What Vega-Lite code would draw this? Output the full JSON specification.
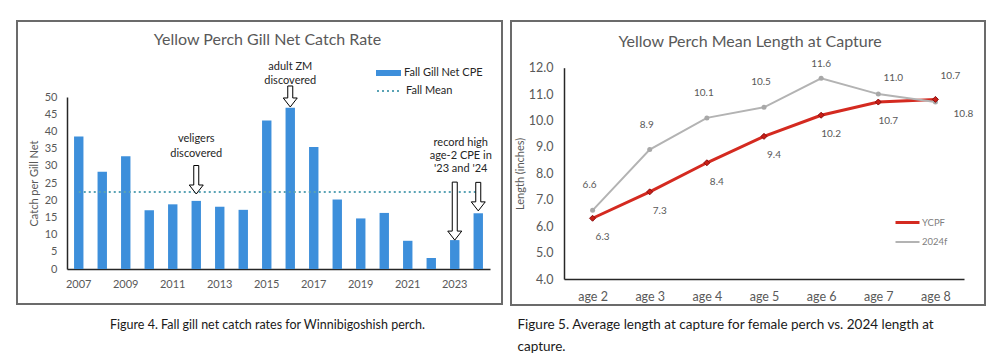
{
  "$schema": "https://vega.github.io/schema/vega-lite/v6.json",
  "padding": {"left": 16, "top": 20, "right": 0, "bottom": 0},
  "background": "white",
  "spacing": 7,
  "config": {
    "font": "Lato",
    "view": {"stroke": "#6b6b6b", "strokeWidth": 2},
    "axis": {"grid": false, "ticks": false, "labelOverlap": false, "domainColor": "#262626", "domainWidth": 1.5, "labelColor": "#595959", "titleColor": "#595959", "titleFontWeight": "normal", "labelFont": "Lato", "titleFont": "Lato", "titleLimit": 1000},
    "title": {"font": "Lato", "fontWeight": "normal", "color": "#595959"},
    "legend": {"labelFont": "Lato", "padding": 0, "title": null}
  },
  "hconcat": [
    {
      "width": 485,
      "height": 283,
      "title": {"text": "Yellow Perch Gill Net Catch Rate", "fontSize": 16, "offset": -27, "dx": 8},
      "resolve": {"axis": {"x": "independent", "y": "independent"}},
      "layer": [
        {
          "data": {"values": [
            {"year": "2007", "cpe": 38.5, "mean": 22.4},
            {"year": "2008", "cpe": 28.3, "mean": 22.4},
            {"year": "2009", "cpe": 32.8, "mean": 22.4},
            {"year": "2010", "cpe": 17.1, "mean": 22.4},
            {"year": "2011", "cpe": 18.8, "mean": 22.4},
            {"year": "2012", "cpe": 19.8, "mean": 22.4},
            {"year": "2013", "cpe": 18.1, "mean": 22.4},
            {"year": "2014", "cpe": 17.2, "mean": 22.4},
            {"year": "2015", "cpe": 43.2, "mean": 22.4},
            {"year": "2016", "cpe": 46.9, "mean": 22.4},
            {"year": "2017", "cpe": 35.5, "mean": 22.4},
            {"year": "2018", "cpe": 20.2, "mean": 22.4},
            {"year": "2019", "cpe": 14.7, "mean": 22.4},
            {"year": "2020", "cpe": 16.3, "mean": 22.4},
            {"year": "2021", "cpe": 8.2, "mean": 22.4},
            {"year": "2022", "cpe": 3.2, "mean": 22.4},
            {"year": "2023", "cpe": 8.4, "mean": 22.4},
            {"year": "2024", "cpe": 16.2, "mean": 22.4}
          ]},
          "resolve": {"axis": {"x": "independent", "y": "independent"}},
          "layer": [
            {
              "mark": {"type": "bar"},
              "encoding": {
                "x": {"field": "year", "type": "ordinal",
                  "scale": {"range": [50, 473], "paddingInner": 0.6, "paddingOuter": 0.3},
                  "axis": {"offset": -35, "labelAngle": 0, "labelFontSize": 11, "labelPadding": 9,
                    "values": ["2007", "2009", "2011", "2013", "2015", "2017", "2019", "2021", "2023"],
                    "title": "Figure 4. Fall gill net catch rates for Winnibigoshish perch.",
                    "titleX": 250, "titleY": 59, "titleAlign": "center", "titleAnchor": "middle", "titleBaseline": "alphabetic",
                    "titleFontSize": 12.5, "titleColor": "#1a1a1a"}},
                "y": {"field": "cpe", "type": "quantitative",
                  "scale": {"domain": [0, 50], "range": [248, 76], "nice": false},
                  "axis": {"offset": -50, "values": [0, 5, 10, 15, 20, 25, 30, 35, 40, 45, 50], "labelOverlap": false, "labelSeparation": 0, "labelFontSize": 11, "labelPadding": 10,
                    "title": "Catch per Gill Net", "titleFontSize": 11, "titlePadding": 5}},
                "fill": {"datum": "Fall Gill Net CPE", "type": "nominal",
                  "scale": {"range": ["#3d8fdb"]},
                  "legend": {"orient": "none", "legendX": 359, "legendY": 39.5,
                    "symbolType": "M -1 -0.24 L 1 -0.24 L 1 0.24 L -1 0.24 Z", "symbolSize": 625, "symbolStrokeWidth": 0,
                    "labelFontSize": 11, "labelColor": "#262626", "labelOffset": 3}}
              }
            },
            {
              "mark": {"type": "line", "strokeDash": [2, 3], "strokeWidth": 2},
              "encoding": {
                "x": {"field": "year", "type": "ordinal", "axis": null},
                "y": {"field": "mean", "type": "quantitative", "axis": null},
                "stroke": {"datum": "Fall Mean", "type": "nominal",
                  "scale": {"range": ["#5aa3b5"]},
                  "legend": {"orient": "none", "legendX": 359, "legendY": 56.5,
                    "symbolType": "stroke", "symbolSize": 625, "symbolDash": [2, 3], "symbolStrokeWidth": 2,
                    "labelFontSize": 11, "labelColor": "#262626", "labelOffset": 3}}
              }
            }
          ]
        },
        {
          "data": {"values": [
            {"year": "2012", "tip": 21.8, "labelY": 39.5, "label": "veligers\ndiscovered"},
            {"year": "2016", "tip": 47.1, "labelY": 60.5, "label": "adult ZM\ndiscovered"},
            {"year": "2023", "tip": 8.4, "labelY": 38.4, "label": "record high\nage-2 CPE in\n'23 and '24"},
            {"year": "2024", "tip": 16.9, "labelY": 38.4, "label": ""}
          ]},
          "resolve": {"axis": {"x": "independent", "y": "independent"}},
          "layer": [
            {
              "transform": [{"filter": {"field": "year", "oneOf": ["2012", "2024"]}}],
              "mark": {"type": "point", "shape": "M -0.25 -2.85 L 0.25 -2.85 L 0.25 -0.9 L 0.7 -0.9 L 0 0 L -0.7 -0.9 L -0.25 -0.9 Z",
                "size": 400, "filled": true, "fill": "white", "stroke": "black", "strokeWidth": 1, "opacity": 1},
              "encoding": {"x": {"field": "year", "type": "ordinal", "axis": null}, "y": {"field": "tip", "type": "quantitative", "axis": null}}
            },
            {
              "transform": [{"filter": {"field": "year", "equal": "2016"}}],
              "mark": {"type": "point", "shape": "M -0.25 -2.1 L 0.25 -2.1 L 0.25 -0.9 L 0.7 -0.9 L 0 0 L -0.7 -0.9 L -0.25 -0.9 Z",
                "size": 400, "filled": true, "fill": "white", "stroke": "black", "strokeWidth": 1, "opacity": 1},
              "encoding": {"x": {"field": "year", "type": "ordinal", "axis": null}, "y": {"field": "tip", "type": "quantitative", "axis": null}}
            },
            {
              "transform": [{"filter": {"field": "year", "equal": "2023"}}],
              "mark": {"type": "point", "shape": "M -0.25 -5.8 L 0.25 -5.8 L 0.25 -0.9 L 0.7 -0.9 L 0 0 L -0.7 -0.9 L -0.25 -0.9 Z",
                "size": 400, "filled": true, "fill": "white", "stroke": "black", "strokeWidth": 1, "opacity": 1},
              "encoding": {"x": {"field": "year", "type": "ordinal", "axis": null}, "y": {"field": "tip", "type": "quantitative", "axis": null}}
            },
            {
              "transform": [{"filter": {"field": "year", "oneOf": ["2012", "2016"]}}],
              "mark": {"type": "text", "fontSize": 11, "lineHeight": 14.5, "baseline": "top", "align": "center", "color": "#262626", "lineBreak": "\n"},
              "encoding": {"x": {"field": "year", "type": "ordinal", "axis": null}, "y": {"field": "labelY", "type": "quantitative", "axis": null}, "text": {"field": "label"}}
            },
            {
              "transform": [{"filter": {"field": "year", "equal": "2023"}}],
              "mark": {"type": "text", "fontSize": 11, "lineHeight": 13, "baseline": "top", "align": "center", "dx": 6, "color": "#262626", "lineBreak": "\n"},
              "encoding": {"x": {"field": "year", "type": "ordinal", "axis": null}, "y": {"field": "labelY", "type": "quantitative", "axis": null}, "text": {"field": "label"}}
            }
          ]
        }
      ]
    },
    {
      "width": 474,
      "height": 284,
      "title": {"text": "Yellow Perch Mean Length at Capture", "fontSize": 16, "offset": -29, "dx": 2},
      "data": {"values": [
        {"age": "age 2", "series": "YCPF", "length": 6.3},
        {"age": "age 3", "series": "YCPF", "length": 7.3},
        {"age": "age 4", "series": "YCPF", "length": 8.4},
        {"age": "age 5", "series": "YCPF", "length": 9.4},
        {"age": "age 6", "series": "YCPF", "length": 10.2},
        {"age": "age 7", "series": "YCPF", "length": 10.7},
        {"age": "age 8", "series": "YCPF", "length": 10.8},
        {"age": "age 2", "series": "2024f", "length": 6.6},
        {"age": "age 3", "series": "2024f", "length": 8.9},
        {"age": "age 4", "series": "2024f", "length": 10.1},
        {"age": "age 5", "series": "2024f", "length": 10.5},
        {"age": "age 6", "series": "2024f", "length": 11.6},
        {"age": "age 7", "series": "2024f", "length": 11.0},
        {"age": "age 8", "series": "2024f", "length": 10.7}
      ]},
      "encoding": {
        "x": {"field": "age", "type": "ordinal",
          "scale": {"type": "point", "range": [53, 453], "padding": 0.5},
          "axis": {"offset": -26, "labelAngle": 0, "labelFontSize": 12.5, "labelPadding": 11,
            "title": ["Figure 5. Average length at capture for female perch vs. 2024 length at", "capture."],
            "titleX": 6, "titleY": 49, "titleAlign": "left", "titleAnchor": "start", "titleBaseline": "alphabetic",
            "titleLineHeight": 22, "titleFontSize": 13.5, "titleColor": "#1a1a1a"}},
        "y": {"field": "length", "type": "quantitative",
          "scale": {"domain": [4, 12], "range": [258, 46.7], "nice": false, "zero": false},
          "axis": {"offset": -53, "values": [4, 5, 6, 7, 8, 9, 10, 11, 12], "format": ".1f", "labelOverlap": false, "labelFontSize": 12.5, "labelPadding": 11,
            "title": "Length (inches)", "titleFontSize": 11, "titlePadding": 3}}
      },
      "layer": [
        {
          "mark": {"type": "line"},
          "encoding": {
            "color": {"field": "series", "type": "nominal",
              "scale": {"domain": ["YCPF", "2024f"], "range": ["#d42a20", "#b3b3b3"]},
              "legend": {"orient": "none", "legendX": 877, "legendY": 188, "symbolType": "stroke", "symbolSize": 576, "symbolStrokeWidth": 2.5,
                "rowPadding": -4, "labelFontSize": 9.5, "labelColor": "#808080", "labelOffset": 1}},
            "strokeWidth": {"field": "series", "type": "nominal", "scale": {"domain": ["YCPF", "2024f"], "range": [3, 2]}, "legend": null}
          }
        },
        {
          "transform": [{"filter": {"field": "series", "equal": "2024f"}}],
          "mark": {"type": "point", "filled": true, "size": 25, "opacity": 1, "shape": "circle", "color": "#a8a8a8"}
        },
        {
          "transform": [{"filter": {"field": "series", "equal": "YCPF"}}],
          "mark": {"type": "point", "filled": true, "size": 36, "opacity": 1, "shape": "diamond", "color": "#c81e16", "stroke": "#8a1010", "strokeWidth": 1}
        },
        {
          "transform": [{"filter": {"field": "series", "equal": "2024f"}}, {"filter": {"field": "age", "oneOf": ["age 2", "age 3", "age 4", "age 5"]}}],
          "mark": {"type": "text", "fontSize": 10, "color": "#595959", "dx": -3, "dy": -25},
          "encoding": {"text": {"field": "length", "type": "quantitative", "format": ".1f"}}
        },
        {
          "transform": [{"filter": {"field": "series", "equal": "2024f"}}, {"filter": {"field": "age", "equal": "age 6"}}],
          "mark": {"type": "text", "fontSize": 10, "color": "#595959", "dx": 0, "dy": -14},
          "encoding": {"text": {"field": "length", "type": "quantitative", "format": ".1f"}}
        },
        {
          "transform": [{"filter": {"field": "series", "equal": "2024f"}}, {"filter": {"field": "age", "equal": "age 7"}}],
          "mark": {"type": "text", "fontSize": 10, "color": "#595959", "dx": 15, "dy": -16},
          "encoding": {"text": {"field": "length", "type": "quantitative", "format": ".1f"}}
        },
        {
          "transform": [{"filter": {"field": "series", "equal": "2024f"}}, {"filter": {"field": "age", "equal": "age 8"}}],
          "mark": {"type": "text", "fontSize": 10, "color": "#595959", "dx": 15, "dy": -26},
          "encoding": {"text": {"field": "length", "type": "quantitative", "format": ".1f"}}
        },
        {
          "transform": [{"filter": {"field": "series", "equal": "YCPF"}}, {"filter": {"field": "age", "oneOf": ["age 2", "age 3", "age 4", "age 5", "age 6", "age 7"]}}],
          "mark": {"type": "text", "fontSize": 10, "color": "#595959", "dx": 10, "dy": 19},
          "encoding": {"text": {"field": "length", "type": "quantitative", "format": ".1f"}}
        },
        {
          "transform": [{"filter": {"field": "series", "equal": "YCPF"}}, {"filter": {"field": "age", "equal": "age 8"}}],
          "mark": {"type": "text", "fontSize": 10, "color": "#595959", "dx": 28, "dy": 15},
          "encoding": {"text": {"field": "length", "type": "quantitative", "format": ".1f"}}
        }
      ]
    }
  ]
}
